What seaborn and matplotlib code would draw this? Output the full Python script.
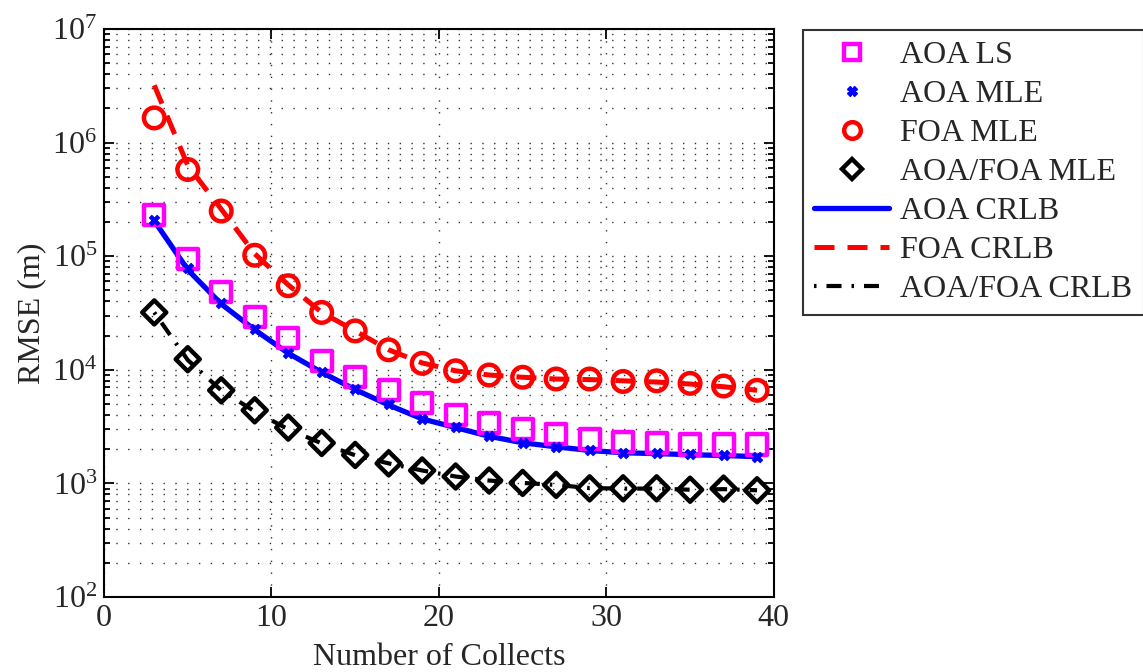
"""RMSE vs number of collects for AOA / FOA / joint geolocation."""

import matplotlib
matplotlib.use("Agg")
import matplotlib.pyplot as plt
import numpy as np
import pandas as pd
import seaborn as sns
from matplotlib.lines import Line2D
from matplotlib.ticker import LogLocator, NullFormatter

# Number of collects
collects = [3, 5, 7, 9, 11, 13, 15, 17, 19, 21, 23, 25, 27, 29, 31, 33, 35, 37, 39]

# Monte-Carlo estimates (m)
aoa_ls = [2.3e5, 9.5e4, 4.8e4, 2.9e4, 1.9e4, 1.2e4, 8.6e3, 6.6e3, 5.1e3, 4.0e3,
          3.4e3, 3.0e3, 2.7e3, 2.45e3, 2.3e3, 2.27e3, 2.2e3, 2.2e3, 2.2e3]
aoa_mle = [2.1e5, 7.8e4, 3.9e4, 2.3e4, 1.4e4, 9.5e3, 6.8e3, 5.0e3, 3.7e3, 3.15e3,
           2.6e3, 2.28e3, 2.1e3, 1.95e3, 1.86e3, 1.84e3, 1.8e3, 1.78e3, 1.72e3]
foa_mle = [1.65e6, 5.8e5, 2.5e5, 1.02e5, 5.5e4, 3.2e4, 2.2e4, 1.5e4, 1.14e4, 9.8e3,
           9.0e3, 8.6e3, 8.3e3, 8.3e3, 7.9e3, 8.0e3, 7.6e3, 7.2e3, 6.6e3]
joint_mle = [3.2e4, 1.24e4, 6.6e3, 4.4e3, 3.1e3, 2.27e3, 1.78e3, 1.5e3, 1.3e3, 1.15e3,
             1.06e3, 1.01e3, 970, 905, 905, 905, 880, 900, 870]

# Cramer-Rao lower bounds (m)
aoa_crlb = [2.05e5, 7.6e4, 3.8e4, 2.25e4, 1.4e4, 9.5e3, 6.7e3, 4.9e3, 3.7e3, 3.1e3,
            2.6e3, 2.28e3, 2.1e3, 1.95e3, 1.86e3, 1.83e3, 1.79e3, 1.76e3, 1.72e3]
foa_crlb = [3.2e6, 6.3e5, 2.6e5, 1.05e5, 5.6e4, 3.2e4, 2.2e4, 1.5e4, 1.15e4, 9.8e3,
            9.0e3, 8.6e3, 8.3e3, 8.2e3, 8.0e3, 7.8e3, 7.5e3, 7.1e3, 6.6e3]
joint_crlb = [3.2e4, 1.22e4, 6.6e3, 4.3e3, 3.0e3, 2.25e3, 1.77e3, 1.5e3, 1.3e3, 1.15e3,
              1.06e3, 1.01e3, 970, 910, 900, 900, 880, 890, 870]

FS = 23

sns.set_style("ticks")
plt.rcParams["font.family"] = ["Liberation Serif", "DejaVu Serif"]
plt.rcParams["mathtext.fontset"] = "custom"
plt.rcParams["mathtext.rm"] = "Liberation Serif"
plt.rcParams["mathtext.it"] = "Liberation Serif:italic"
plt.rcParams["mathtext.default"] = "regular"

df = pd.DataFrame({
    "n": collects,
    "aoa_ls": aoa_ls, "aoa_mle": aoa_mle, "foa_mle": foa_mle, "joint_mle": joint_mle,
    "aoa_crlb": aoa_crlb, "foa_crlb": foa_crlb, "joint_crlb": joint_crlb,
})

fig = plt.figure(figsize=(11.43, 6.72), dpi=100)
ax = fig.add_axes([0.091, 0.1116, 0.586, 0.8452])

# bounds first, estimates drawn on top
sns.lineplot(data=df, x="n", y="aoa_crlb", ax=ax, color="#0000ff", lw=3.8,
             linestyle="-", zorder=3)
sns.lineplot(data=df, x="n", y="foa_crlb", ax=ax, color="#ff0000", lw=3.6,
             zorder=3).lines[-1].set_dashes((4, 2.6))
sns.lineplot(data=df, x="n", y="joint_crlb", ax=ax, color="black", lw=3.0,
             zorder=3).lines[-1].set_dashes((0.6, 2.4, 3.6, 2.4))

sns.scatterplot(data=df, x="n", y="aoa_ls", ax=ax, marker="s", s=210,
                facecolors="none", edgecolors="#ff00ff", linewidth=3.2, zorder=4)
sns.scatterplot(data=df, x="n", y="aoa_mle", ax=ax, marker="X", s=60,
                color="#0000ff", edgecolor="#0000ff", linewidth=0.5, zorder=5)
sns.scatterplot(data=df, x="n", y="foa_mle", ax=ax, marker="o", s=220,
                facecolors="none", edgecolors="#ff0000", linewidth=3.2, zorder=4)
sns.scatterplot(data=df, x="n", y="joint_mle", ax=ax, marker="D", s=150,
                facecolors="none", edgecolors="black", linewidth=3.2, zorder=4)

ax.set_yscale("log")
ax.set_xlim(0, 40)
ax.set_ylim(1e2, 1e7)
ax.set_xticks([0, 10, 20, 30, 40])
ax.yaxis.set_major_locator(LogLocator(base=10, numticks=10))
ax.yaxis.set_minor_locator(LogLocator(base=10, subs=np.arange(2, 10), numticks=20))
ax.yaxis.set_minor_formatter(NullFormatter())

ax.grid(True, which="major", axis="both", color="0.2", lw=1.0, linestyle=(0, (1, 7.5)))
ax.grid(True, which="minor", axis="y", color="0.2", lw=1.0, linestyle=(0, (1, 7.5)))
ax.set_axisbelow(True)

ax.tick_params(which="both", direction="in", top=True, right=True, labelsize=FS,
               width=1.3, color="black")
ax.tick_params(which="major", length=7, pad=5)
ax.tick_params(which="minor", length=4)
for spine in ax.spines.values():
    spine.set_linewidth(1.5)
    spine.set_color("black")

ax.set_xlabel("Number of Collects", fontsize=FS, labelpad=7)
ax.set_ylabel("RMSE (m)", fontsize=FS, labelpad=4)

handles = [
    Line2D([], [], ls="none", marker="s", ms=12, mfc="none", mec="#ff00ff", mew=3.2),
    Line2D([], [], ls="none", marker="X", ms=7, color="#0000ff"),
    Line2D([], [], ls="none", marker="o", ms=12, mfc="none", mec="#ff0000", mew=3.2),
    Line2D([], [], ls="none", marker="D", ms=10, mfc="none", mec="black", mew=3.2),
    Line2D([], [], color="#0000ff", lw=3.8),
    Line2D([], [], color="#ff0000", lw=3.6, dashes=(4, 2.6)),
    Line2D([], [], color="black", lw=3.0, dashes=(0.6, 2.4, 3.6, 2.4)),
]
labels = ["AOA LS", "AOA MLE", "FOA MLE", "AOA/FOA MLE",
          "AOA CRLB", "FOA CRLB", "AOA/FOA CRLB"]
leg = fig.legend(handles, labels, loc="upper left", bbox_to_anchor=(0.7025, 0.956),
                 fontsize=FS, frameon=True, fancybox=False, handlelength=2.35,
                 handletextpad=0.35, labelspacing=0.3, borderpad=0.35,
                 borderaxespad=0)
leg.get_frame().set_edgecolor("black")
leg.get_frame().set_linewidth(1.5)

fig.savefig("out.png", dpi=100)
